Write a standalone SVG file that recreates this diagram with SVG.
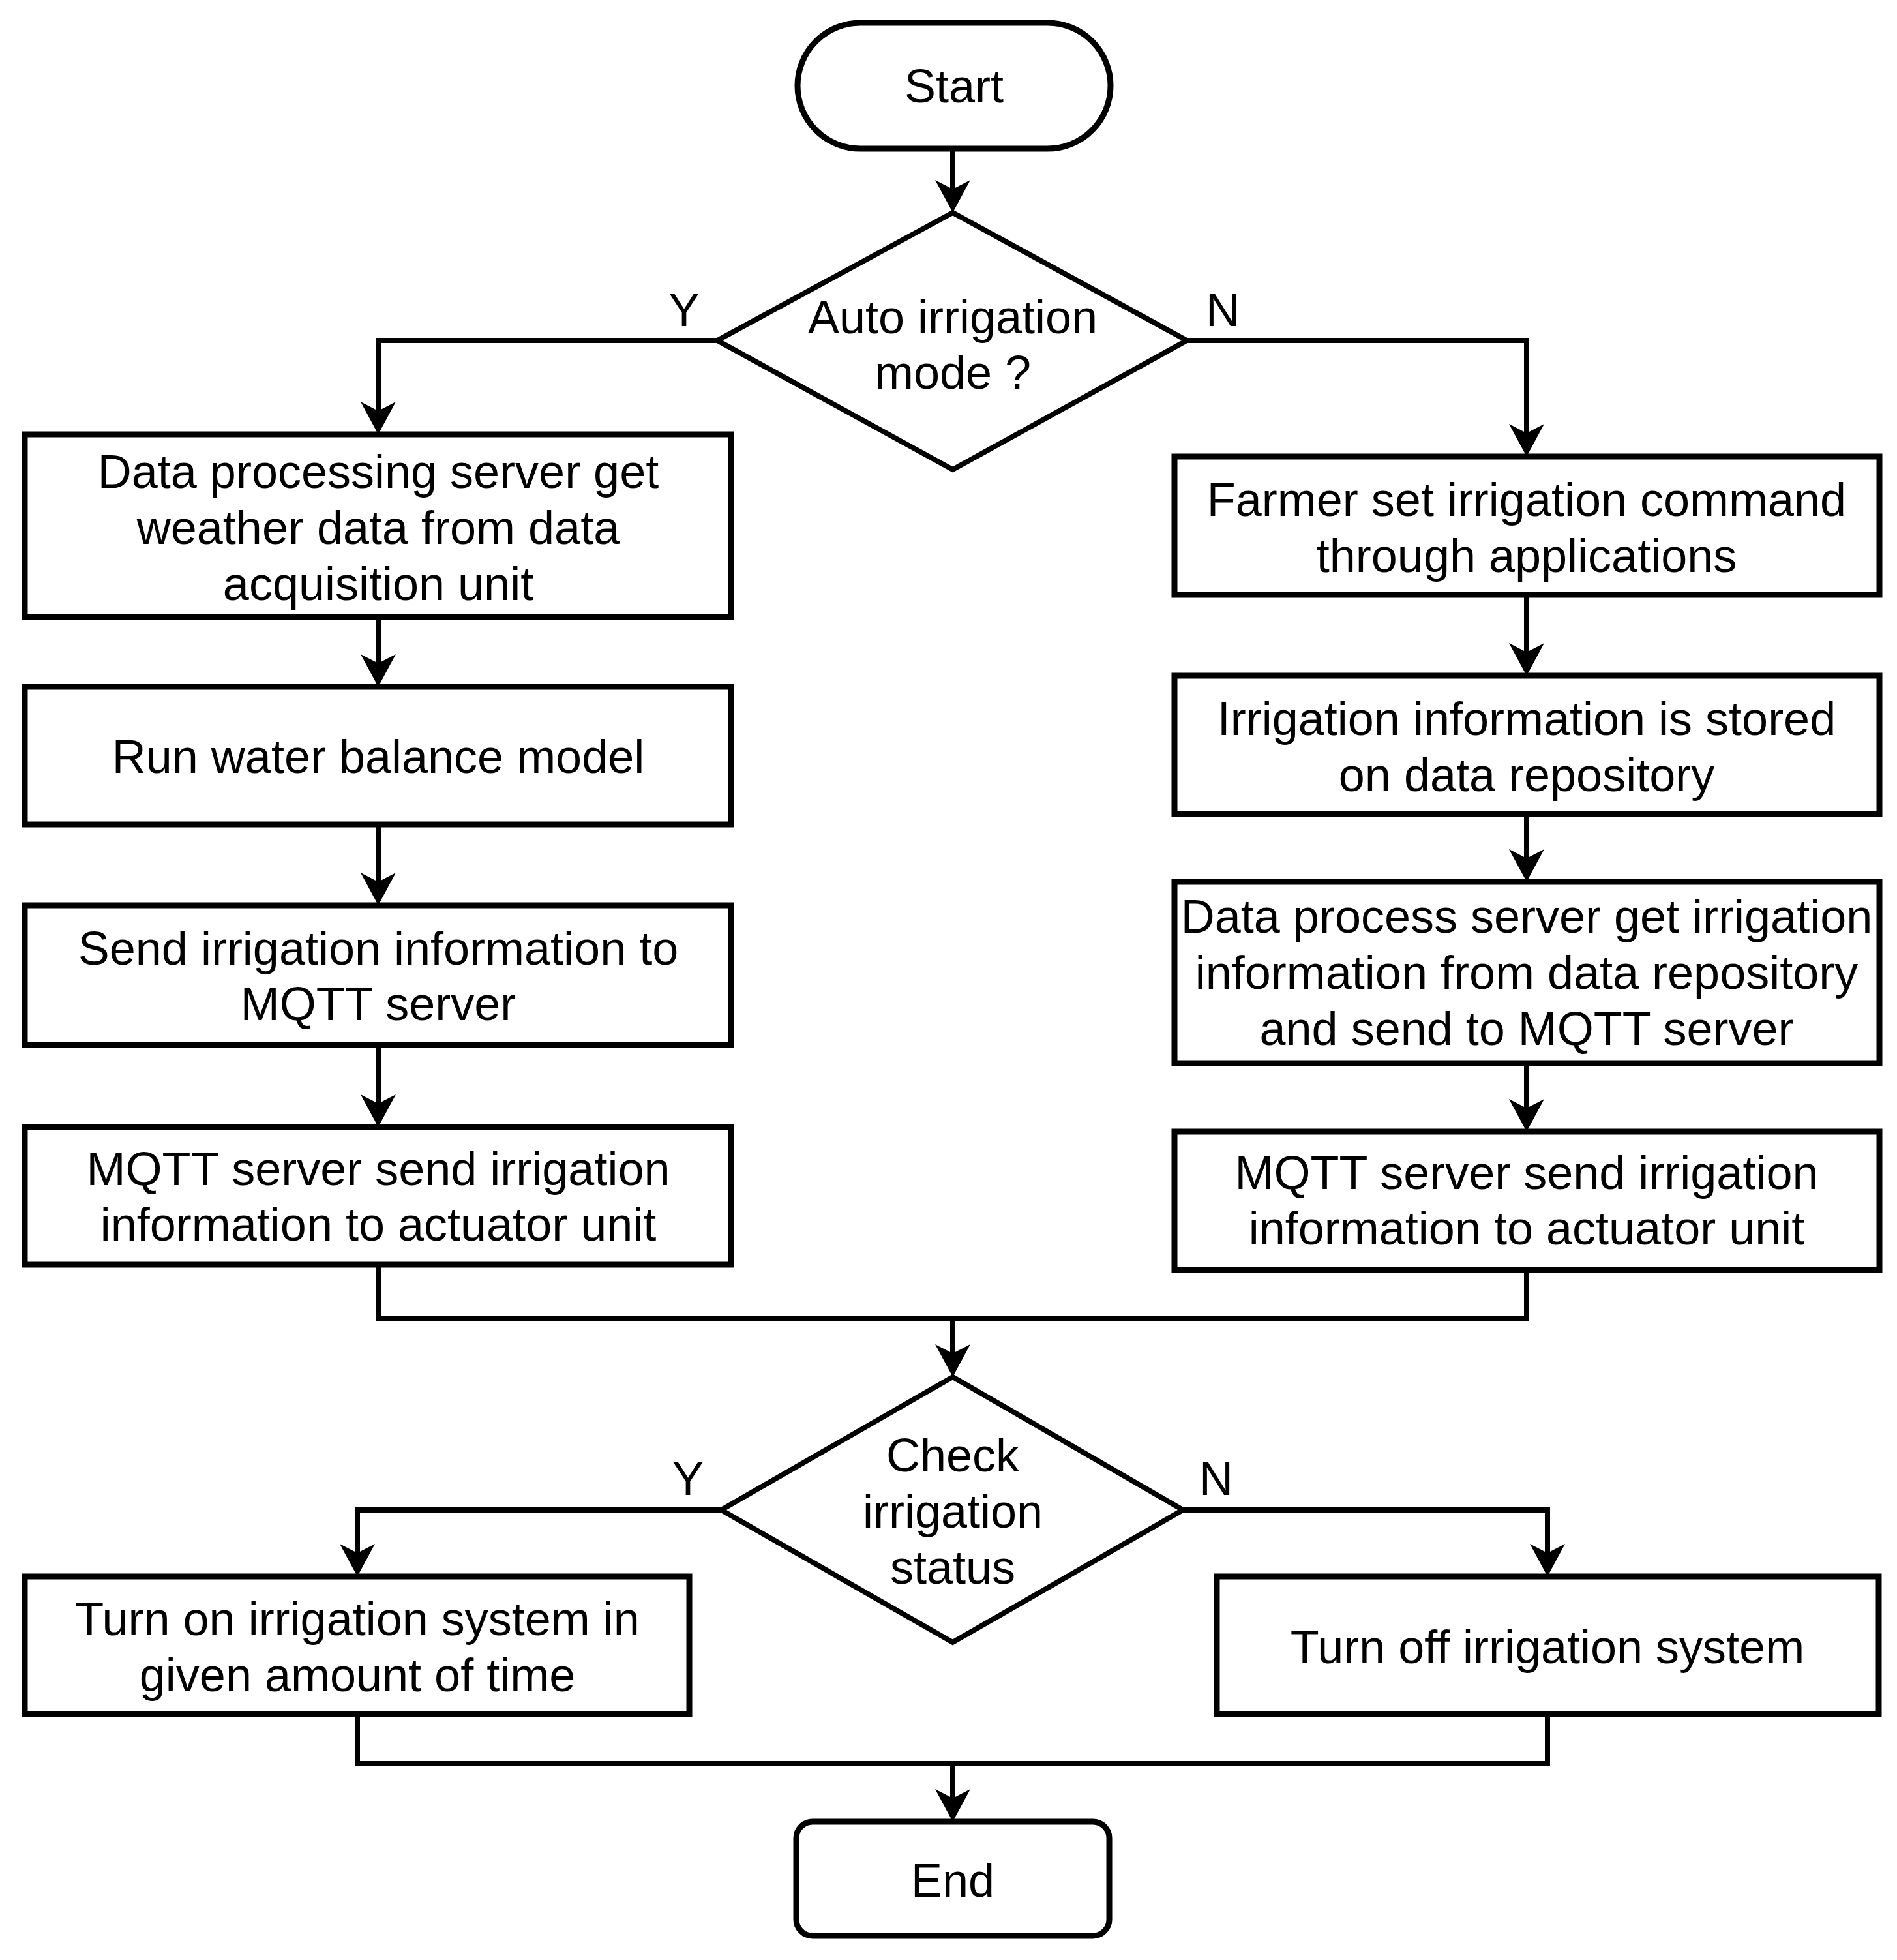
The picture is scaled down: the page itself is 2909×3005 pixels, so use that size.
<svg xmlns="http://www.w3.org/2000/svg" width="2909" height="3005" viewBox="0 0 2909 3005">
<style>
.node{fill:#fff;stroke:#000;stroke-width:9}
.dec{fill:#fff;stroke:#000;stroke-width:8;stroke-linejoin:miter}
.conn{fill:none;stroke:#000;stroke-width:8;stroke-linejoin:miter}
.t{font-family:"Liberation Sans",Arial,Helvetica,sans-serif;font-size:72px;fill:#000;text-anchor:middle}
</style>
<defs>
<marker id="arr" markerUnits="userSpaceOnUse" viewBox="-52 -29 54 58" markerWidth="54" markerHeight="58" refX="-30" refY="0" orient="auto">
<path d="M0,0 L-50,-27 L-36,0 L-50,27 Z" fill="#000"/>
</marker>
</defs>
<rect width="2909" height="3005" fill="#fff"/>
<g id="connectors">
<path class="conn" d="M1461,228 V296" marker-end="url(#arr)"/>
<path class="conn" d="M1100,522 H580 V636" marker-end="url(#arr)"/>
<path class="conn" d="M1820,522 H2341 V670" marker-end="url(#arr)"/>
<path class="conn" d="M580,946 V1023" marker-end="url(#arr)"/>
<path class="conn" d="M580,1264 V1358" marker-end="url(#arr)"/>
<path class="conn" d="M580,1602 V1698" marker-end="url(#arr)"/>
<path class="conn" d="M2341,912 V1006" marker-end="url(#arr)"/>
<path class="conn" d="M2341,1248 V1322" marker-end="url(#arr)"/>
<path class="conn" d="M2341,1630 V1705" marker-end="url(#arr)"/>
<path class="conn" d="M580,1939 V2021 H2341 V1947"/>
<path class="conn" d="M1461,2021 V2081" marker-end="url(#arr)"/>
<path class="conn" d="M1106,2315 H548 V2387" marker-end="url(#arr)"/>
<path class="conn" d="M1814,2315 H2373 V2387" marker-end="url(#arr)"/>
<path class="conn" d="M548,2628 V2704 H2373 V2628"/>
<path class="conn" d="M1461,2704 V2763" marker-end="url(#arr)"/>
<text class="t" x="1049" y="500">Y</text>
<text class="t" x="1875" y="500">N</text>
<text class="t" x="1055" y="2292">Y</text>
<text class="t" x="1865" y="2292">N</text>
</g>
<g id="start">
<rect class="node" x="1223" y="35" width="480" height="193" rx="96.5"/>
<text class="t" x="1463" y="157">Start</text>
</g>
<g id="auto-mode">
<polygon class="dec" points="1461,326 1820,522 1461,720 1100,522"/>
<text class="t" x="1461" y="511">Auto irrigation</text>
<text class="t" x="1461" y="596">mode ?</text>
</g>
<g id="get-weather">
<rect class="node" x="38" y="666" width="1083" height="280"/>
<text class="t" x="580" y="748">Data processing server get</text>
<text class="t" x="580" y="834">weather data from data</text>
<text class="t" x="580" y="920">acquisition unit</text>
</g>
<g id="water-balance">
<rect class="node" x="38" y="1053" width="1083" height="211"/>
<text class="t" x="580" y="1185">Run water balance model</text>
</g>
<g id="send-mqtt">
<rect class="node" x="38" y="1388" width="1083" height="214"/>
<text class="t" x="580" y="1479">Send irrigation information to</text>
<text class="t" x="580" y="1564">MQTT server</text>
</g>
<g id="mqtt-actuator-left">
<rect class="node" x="38" y="1728" width="1083" height="211"/>
<text class="t" x="580" y="1817">MQTT server send irrigation</text>
<text class="t" x="580" y="1902">information to actuator unit</text>
</g>
<g id="farmer-command">
<rect class="node" x="1801" y="700" width="1081" height="212"/>
<text class="t" x="2341" y="791">Farmer set irrigation command</text>
<text class="t" x="2341" y="877">through applications</text>
</g>
<g id="stored-repo">
<rect class="node" x="1801" y="1036" width="1081" height="212"/>
<text class="t" x="2341" y="1127">Irrigation information is stored</text>
<text class="t" x="2341" y="1213">on data repository</text>
</g>
<g id="process-get">
<rect class="node" x="1801" y="1352" width="1081" height="278"/>
<text class="t" x="2341" y="1430">Data process server get irrigation</text>
<text class="t" x="2341" y="1516">information from data repository</text>
<text class="t" x="2341" y="1602">and send to MQTT server</text>
</g>
<g id="mqtt-actuator-right">
<rect class="node" x="1801" y="1735" width="1081" height="212"/>
<text class="t" x="2341" y="1823">MQTT server send irrigation</text>
<text class="t" x="2341" y="1908">information to actuator unit</text>
</g>
<g id="check-status">
<polygon class="dec" points="1461,2111 1814,2315 1461,2518 1106,2315"/>
<text class="t" x="1461" y="2256">Check</text>
<text class="t" x="1461" y="2342">irrigation</text>
<text class="t" x="1461" y="2428">status</text>
</g>
<g id="turn-on">
<rect class="node" x="38" y="2417" width="1019" height="211"/>
<text class="t" x="548" y="2507">Turn on irrigation system in</text>
<text class="t" x="548" y="2593">given amount of time</text>
</g>
<g id="turn-off">
<rect class="node" x="1866" y="2417" width="1015" height="211"/>
<text class="t" x="2373" y="2550">Turn off irrigation system</text>
</g>
<g id="end">
<rect class="node" x="1221" y="2793" width="480" height="175" rx="25"/>
<text class="t" x="1461" y="2908">End</text>
</g>
</svg>
